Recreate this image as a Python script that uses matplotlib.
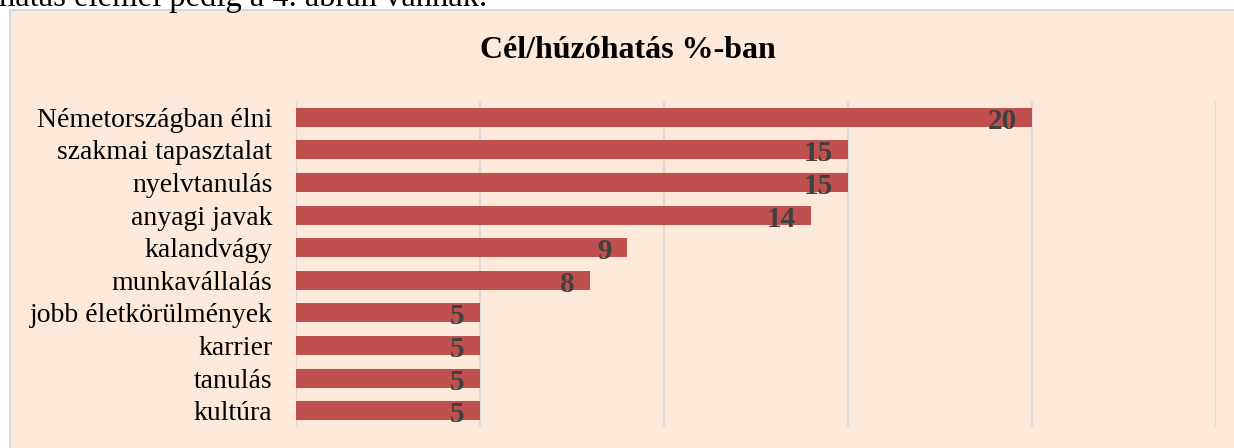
import matplotlib.pyplot as plt
from matplotlib.patches import Rectangle

categories = ["Németországban élni", "szakmai tapasztalat", "nyelvtanulás", "anyagi javak",
              "kalandvágy", "munkavállalás", "jobb életkörülmények", "karrier", "tanulás", "kultúra"]
values = [20, 15, 15, 14, 9, 8, 5, 5, 5, 5]

plt.rcParams["font.family"] = ["Liberation Serif", "DejaVu Serif"]

W, H = 1234, 448
fig = plt.figure(figsize=(W / 100, H / 100), dpi=100)
fig.patch.set_facecolor("white")

# chart frame
frame = Rectangle((10 / W, -0.05), 1.05, (H - 10) / H + 0.05, transform=fig.transFigure,
                  facecolor="#FDE9D9", edgecolor="#D9D9D9", linewidth=1.5, zorder=-5)
fig.patches.append(frame)
fig.text(-1 / W, 1 - 6 / H, "hatás elemei pedig a 4. ábrán vannak.", fontsize=23.5, va="baseline", ha="left")

ax = fig.add_axes([296 / W, 1 - 427 / H, (1216 - 296) / W, (427 - 101) / H], zorder=2)
ax.set_facecolor("none")
y = list(range(len(categories)))
bar_h = 0.58
ax.barh(y, values, height=bar_h, color="#C0504D", zorder=2)
ax.set_xlim(0, 25)
ax.set_ylim(len(categories) - 0.5, -0.5)
ax.set_yticks(y)
ax.set_yticklabels(categories, fontsize=20)
ax.set_xticks([0, 5, 10, 15, 20, 25])
ax.tick_params(axis="x", labelbottom=False, length=0)
ax.tick_params(axis="y", length=0, pad=17)
ax.grid(axis="x", color="#D9D9D9", linewidth=1.5, zorder=1)
for s in ax.spines.values():
    s.set_visible(False)
for i, v in enumerate(values):
    ax.annotate(str(v), xy=(v, i + bar_h / 2), xytext=(-11, -1.5), textcoords="offset points",
                ha="right", va="baseline", fontsize=21, fontweight="bold", color="#404040", zorder=3)

fig.text((481 + 775) / 2 / W, 1 - 50 / H, "Cél/húzóhatás %-ban", fontsize=23, fontweight="bold",
         ha="center", va="center")

fig.savefig("out.png", dpi=100, facecolor=fig.get_facecolor())
